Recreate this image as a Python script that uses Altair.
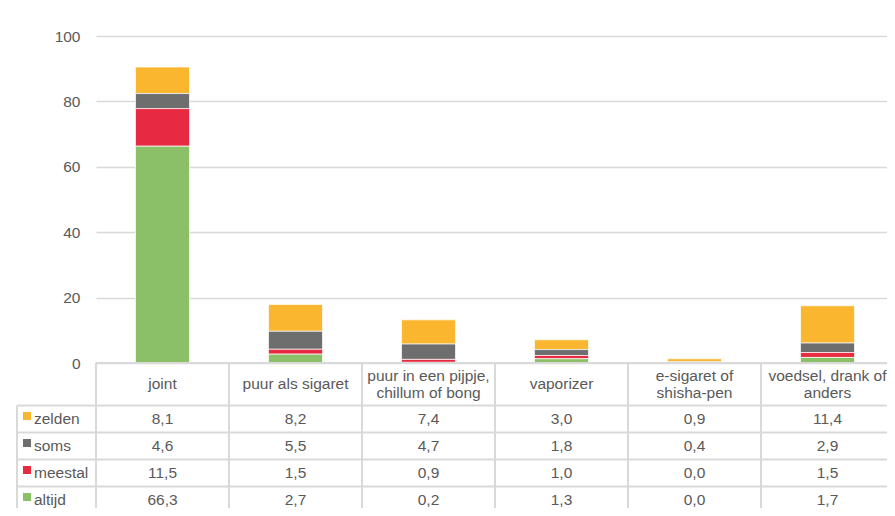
import altair as alt
import pandas as pd

# ---------------- data ----------------
categories = ["joint", "puur als sigaret", "puur in een pijpje, chillum of bong",
              "vaporizer", "e-sigaret of shisha-pen", "voedsel, drank of anders"]
header_labels = ["joint", "puur als sigaret", "puur in een pijpje,\nchillum of bong",
                 "vaporizer", "e-sigaret of\nshisha-pen", "voedsel, drank of\nanders"]
series = ["zelden", "soms", "meestal", "altijd"]
colors = ["#FAB62E", "#6E6E6E", "#E72A41", "#8CC068"]
zelden = [8.1, 8.2, 7.4, 3.0, 0.9, 11.4]
soms = [4.6, 5.5, 4.7, 1.8, 0.4, 2.9]
meestal = [11.5, 1.5, 0.9, 1.0, 0.0, 1.5]
altijd = [66.3, 2.7, 0.2, 1.3, 0.0, 1.7]
y_ticks = [0, 20, 40, 60, 80, 100]

values = {"zelden": zelden, "soms": soms, "meestal": meestal, "altijd": altijd}

# ---------------- layout ----------------
PLOT_W, PLOT_H = 791, 327
COL_PX, LEG_PX = 133, 79
HEADER_PX, ROW_PX = 42.5, 27.0
BOTTOM_PX = 160
LINE_H = 16.7
YMAX = 100
u = YMAX / PLOT_H          # data units per pixel (vertical)
xmax = PLOT_W / COL_PX
BAR_HALF = 27 / COL_PX
FONT = "Liberation Sans"
TXT = "#595959"
LINE = "#d9d9d9"

def fmt(v):
    return f"{v:.1f}".replace(".", ",")

bar_rows, cell_rows = [], []
for i, cat in enumerate(categories):
    for r, s in enumerate(series):
        v = values[s][i]
        bar_rows.append({"cat": cat, "idx": i, "series": s,
                         "order": len(series) - 1 - r, "value": v})
        cell_rows.append({"idx": i, "row": r, "label": fmt(v)})
bars = pd.DataFrame(bar_rows)
cells = pd.DataFrame(cell_rows)
headers = pd.DataFrame({"idx": list(range(len(categories))), "label": header_labels})
legend = pd.DataFrame({"row": list(range(len(series))), "series": series})

xscale = alt.Scale(domain=[0, xmax], nice=False, zero=False)
yscale = alt.Scale(domain=[0, YMAX], nice=False)
yaxis = alt.Axis(values=y_ticks, title=None, domain=False, ticks=False,
                 labelPadding=16, labelFontSize=15.5, labelColor=TXT, labelFont=FONT,
                 gridColor=LINE, gridWidth=1.6)
cscale = alt.Scale(domain=series, range=colors)

def X(f):
    return alt.X(f, scale=xscale, axis=None)

def Y(f):
    return alt.Y(f, scale=yscale, axis=yaxis)

bar_layer = alt.Chart(bars).transform_stack(
    stack="value", groupby=["cat"], as_=["y0", "y1"],
    sort=[alt.SortField("order", order="ascending")]
).transform_calculate(
    xa=f"datum.idx + 0.5 - {BAR_HALF}", xb=f"datum.idx + 0.5 + {BAR_HALF}"
).mark_rect(stroke="white", strokeWidth=0.7).encode(
    x=X("xa:Q"), x2="xb:Q", y=Y("y0:Q"), y2="y1:Q",
    color=alt.Color("series:N", scale=cscale, legend=None)
)

# table grid lines
hlines = [{"x0": 0, "x1": 6, "y": 0}]
for k in range(len(series) + 1):
    hlines.append({"x0": -LEG_PX / COL_PX, "x1": 6, "y": -(HEADER_PX + ROW_PX * k) * u})
hdf = pd.DataFrame(hlines)
vlines = [{"x": j, "y0": 0, "y1": -BOTTOM_PX * u} for j in range(len(categories) + 1)]
vlines.append({"x": -LEG_PX / COL_PX, "y0": -HEADER_PX * u, "y1": -BOTTOM_PX * u})
vdf = pd.DataFrame(vlines)

h_layer = alt.Chart(hdf).mark_rule(color=LINE, strokeWidth=2).encode(
    x=X("x0:Q"), x2="x1:Q", y=Y("y:Q"))
v_layer = alt.Chart(vdf).mark_rule(color=LINE, strokeWidth=2).encode(
    x=X("x:Q"), y=Y("y0:Q"), y2="y1:Q")

header_layer = alt.Chart(headers).transform_calculate(
    tx="datum.idx + 0.5",
    ty=f"{-HEADER_PX / 2 * u} + (split(datum.label, '\\n').length - 1) * {LINE_H / 2 * u}"
).mark_text(font=FONT, fontSize=15.5, color=TXT, align="center",
            baseline="middle", lineBreak="\n", lineHeight=LINE_H).encode(
    x=X("tx:Q"), y=Y("ty:Q"), text="label:N")

cell_layer = alt.Chart(cells).transform_calculate(
    tx="datum.idx + 0.5",
    ty=f"-({HEADER_PX} + {ROW_PX} * (datum.row + 0.5)) * {u}"
).mark_text(font=FONT, fontSize=15.5, color=TXT, align="center",
            baseline="middle").encode(
    x=X("tx:Q"), y=Y("ty:Q"), text="label:N")

swatch_layer = alt.Chart(legend).transform_calculate(
    tx=f"{(-LEG_PX + 10) / COL_PX}",
    ty=f"-({HEADER_PX} + {ROW_PX} * (datum.row + 0.5)) * {u} + {3 * u}"
).mark_square(size=64, opacity=1).encode(
    x=X("tx:Q"), y=Y("ty:Q"),
    color=alt.Color("series:N", scale=cscale, legend=None))

legend_text = alt.Chart(legend).transform_calculate(
    tx=f"{(-LEG_PX + 17) / COL_PX}",
    ty=f"-({HEADER_PX} + {ROW_PX} * (datum.row + 0.5)) * {u}"
).mark_text(font=FONT, fontSize=15.5, color=TXT, align="left",
            baseline="middle").encode(
    x=X("tx:Q"), y=Y("ty:Q"), text="series:N")

chart = alt.layer(
    bar_layer, h_layer, v_layer, header_layer, cell_layer, swatch_layer, legend_text
).properties(
    width=PLOT_W, height=PLOT_H,
    autosize=alt.AutoSizeParams(type="none"),
    padding={"left": 88, "top": 28, "right": 0, "bottom": 145},
    background="white",
).configure_view(stroke=None)

chart.save("out.html", embed_options={"renderer": "svg", "actions": False})
